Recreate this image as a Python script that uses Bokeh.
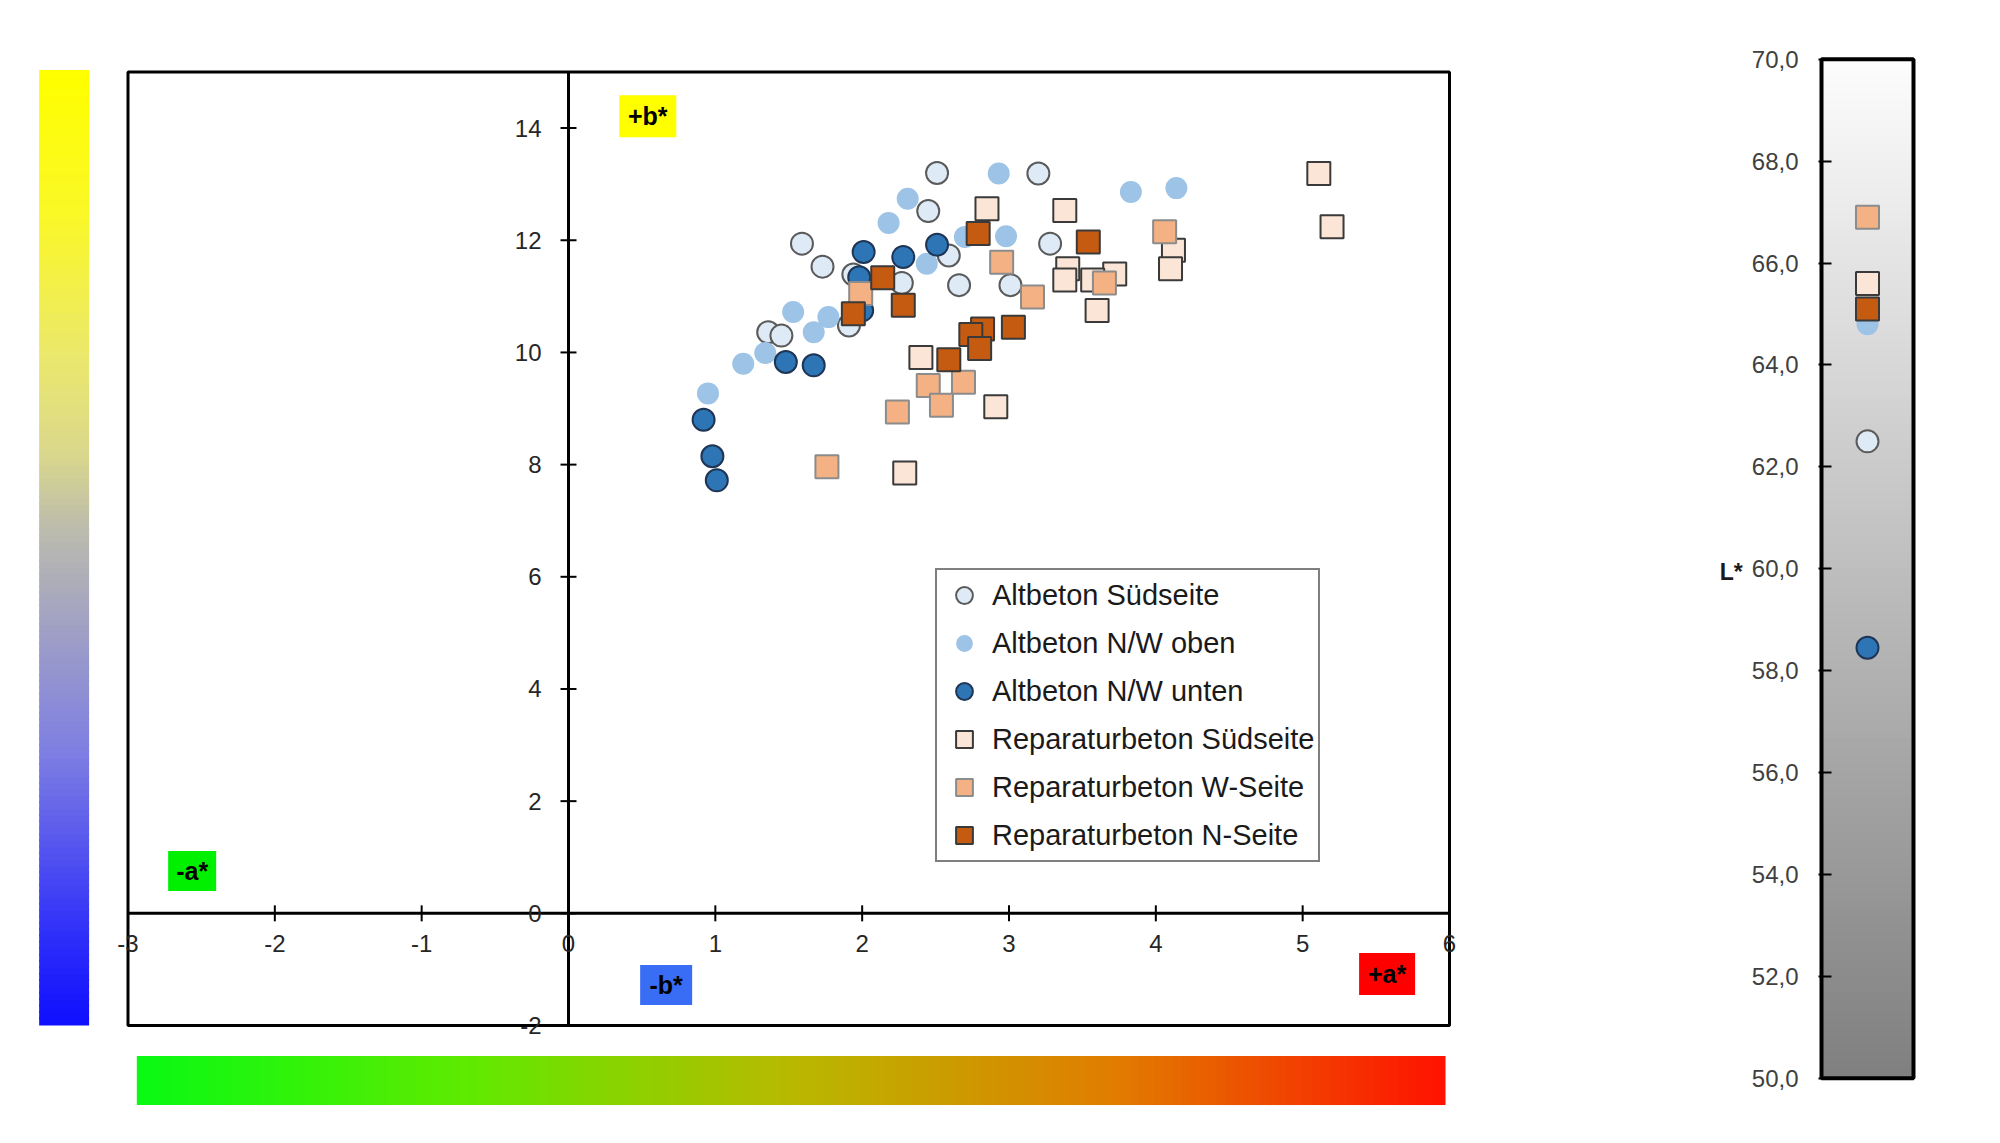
import numpy as np
from bokeh.plotting import figure
from bokeh.layouts import row
from bokeh.models import Range1d, Legend, LegendItem, FixedTicker, CustomJSTickFormatter
from bokeh.embed import file_html
from bokeh.resources import INLINE
from bokeh.core.properties import value

# ---------------- data: a* (x) and b* (y) per series ----------------
alt_sued_a = [2.51, 3.20, 2.45, 1.59, 1.73, 2.59, 3.28, 1.94, 2.27, 2.66, 3.01, 1.91, 1.36, 1.45]
alt_sued_b = [13.20, 13.19, 12.52, 11.94, 11.53, 11.73, 11.94, 11.39, 11.24, 11.20, 11.20, 10.48, 10.36, 10.30]
alt_nwo_a = [2.93, 2.31, 2.18, 2.70, 2.98, 2.44, 1.53, 1.77, 1.67, 1.34, 1.19, 0.95, 3.83, 4.14]
alt_nwo_b = [13.19, 12.74, 12.31, 12.06, 12.07, 11.58, 10.72, 10.63, 10.36, 9.99, 9.80, 9.27, 12.86, 12.93]
alt_nwu_a = [2.01, 2.28, 2.51, 1.98, 2.00, 1.48, 1.67, 0.92, 0.98, 1.01]
alt_nwu_b = [11.79, 11.70, 11.92, 11.34, 10.75, 9.83, 9.77, 8.80, 8.15, 7.72]
rep_sued_a = [2.85, 3.38, 3.40, 3.38, 3.72, 3.57, 3.60, 4.12, 4.10, 2.40, 2.91, 2.29, 5.11, 5.20]
rep_sued_b = [12.56, 12.53, 11.49, 11.29, 11.40, 11.29, 10.75, 11.82, 11.49, 9.91, 9.03, 7.85, 13.19, 12.24]
rep_w_a = [1.99, 2.95, 3.16, 3.65, 4.06, 2.45, 2.69, 2.54, 2.24, 1.76]
rep_w_b = [11.05, 11.61, 10.99, 11.24, 12.15, 9.41, 9.47, 9.06, 8.94, 7.96]
rep_n_a = [2.79, 3.54, 2.14, 2.28, 1.94, 3.03, 2.82, 2.74, 2.80, 2.59]
rep_n_b = [12.12, 11.97, 11.33, 10.84, 10.69, 10.45, 10.42, 10.32, 10.07, 9.87]

series_names = ["Altbeton Südseite", "Altbeton N/W oben", "Altbeton N/W unten",
                "Reparaturbeton Südseite", "Reparaturbeton W-Seite", "Reparaturbeton N-Seite"]
series_a = [alt_sued_a, alt_nwo_a, alt_nwu_a, rep_sued_a, rep_w_a, rep_n_a]
series_b = [alt_sued_b, alt_nwo_b, alt_nwu_b, rep_sued_b, rep_w_b, rep_n_b]
# mean lightness L* per series
L_values = [62.5, 64.8, 58.45, 65.6, 66.9, 65.1]

x_ticks = [-3, -2, -1, 0, 1, 2, 3, 4, 5, 6]
x_tick_labels = ["-3", "-2", "-1", "0", "1", "2", "3", "4", "5", "6"]
y_ticks = [-2, 0, 2, 4, 6, 8, 10, 12, 14]
y_tick_labels = ["-2", "0", "2", "4", "6", "8", "10", "12", "14"]
L_ticks = [50, 52, 54, 56, 58, 60, 62, 64, 66, 68, 70]

# ---------------- styles ----------------
markers = ["circle", "circle", "circle", "square", "square", "square"]
sizes = [22, 22, 22, 23, 23, 23]
fills = ["#deebf7", "#9dc3e6", "#2e75b6", "#fbe5d6", "#f4b183", "#c55a11"]
lines = ["#5a5a5a", None, "#1f3556", "#3a3a3a", "#8c8c8c", "#3a3a3a"]
FONT = value("Liberation Sans")
TXT = "#262626"

A_MIN, A_MAX, B_MIN, B_MAX = -3, 6, -2, 15
H = 1143
MAIN_W = 1700


def screen_range(lo, hi, px_lo, px_hi, total):
    ppu = (px_hi - px_lo) / (hi - lo)
    return Range1d(lo - px_lo / ppu, hi + (total - px_hi) / ppu)


# plot box pixel geometry (x from left, y from bottom)
xr = screen_range(A_MIN, A_MAX, 127.5, 1449.0, MAIN_W)
yr = screen_range(B_MIN, B_MAX, H - 1025.0, H - 71.5, H)

p = figure(width=MAIN_W, height=H, x_range=xr, y_range=yr, output_backend="svg",
           toolbar_location=None, x_axis_location=None, y_axis_location=None,
           min_border=0, outline_line_color=None, title=None)
p.grid.visible = False
p.background_fill_color = "white"
p.border_fill_color = "white"


def interp_colors(stops, n):
    pos = [s[0] for s in stops]
    t = np.linspace(0, 1, n)
    chans = [np.interp(t, pos, [s[1][k] for s in stops]) for k in range(3)]
    return ["#%02x%02x%02x" % (int(r), int(g), int(b)) for r, g, b in zip(*chans)]


# colour scale bars (decoration)
N = 150
left_stops = [(0.0, (16, 16, 255)), (0.1, (50, 50, 250)), (0.28, (125, 125, 228)),
              (0.52, (188, 188, 174)), (0.6, (218, 216, 140)), (0.7, (235, 232, 110)),
              (0.85, (250, 248, 40)), (1.0, (255, 255, 0))]
edges = np.linspace(B_MIN, B_MAX, N + 1)
step = edges[1] - edges[0]
p.quad(left=-3.605, right=-3.265, bottom=edges[:-1], top=edges[1:] + step * 0.3,
       fill_color=interp_colors(left_stops, N), line_color=None)

bottom_stops = [(0.0, (10, 250, 20)), (0.25, (95, 235, 0)), (0.5, (185, 185, 0)),
                (0.75, (225, 125, 0)), (1.0, (255, 20, 0))]
edges = np.linspace(-2.94, 5.955, N + 1)
step = edges[1] - edges[0]
p.quad(left=edges[:-1], right=edges[1:] + step * 0.3, bottom=-3.418, top=-2.544,
       fill_color=interp_colors(bottom_stops, N), line_color=None)

# plot box and crossing axes
p.quad(left=A_MIN, right=A_MAX, bottom=B_MIN, top=B_MAX, fill_color="white",
       line_color="black", line_width=3)
p.segment(x0=[0, A_MIN], y0=[B_MIN, 0], x1=[0, A_MAX], y1=[B_MAX, 0],
          line_color="black", line_width=3)
p.scatter(x=x_ticks, y=[0] * len(x_ticks), marker="dash", size=16, angle=np.pi / 2,
          line_color="black", line_width=2)
p.scatter(x=[0] * len(y_ticks), y=y_ticks, marker="dash", size=16,
          line_color="black", line_width=2)
p.text(x=x_ticks, y=[0] * len(x_ticks), text=x_tick_labels, text_font=FONT,
       text_font_size="24px", text_color=TXT, text_align="center",
       text_baseline="top", y_offset=22)
p.text(x=[0] * len(y_ticks), y=y_ticks, text=y_tick_labels, text_font=FONT,
       text_font_size="24px", text_color=TXT, text_align="right",
       text_baseline="middle", x_offset=-27)

# colour direction tags
tag_x = [0.54, -2.563, 0.665, 5.575]
tag_y = [14.21, 0.754, -1.28, -1.08]
tag_text = ["+b*", "-a*", "-b*", "+a*"]
tag_fill = ["#ffff00", "#00f000", "#3a6df5", "#ff0000"]
p.rect(x=tag_x, y=tag_y, width=[57, 48, 52, 56], height=[42, 40, 40, 42],
       width_units="screen", height_units="screen", fill_color=tag_fill, line_color=None)
p.text(x=tag_x, y=tag_y, text=tag_text, text_font=FONT, text_font_size="25px",
       text_font_style="bold", text_color="black", text_align="center",
       text_baseline="middle")

# data series
items = []
for name, xa, yb, mk, sz, fc, lc in zip(series_names, series_a, series_b, markers, sizes, fills, lines):
    r = p.scatter(x=xa, y=yb, marker=mk, size=sz, fill_color=fc,
                  line_color=lc, line_width=2)
    items.append(LegendItem(label=name, renderers=[r]))

legend = Legend(items=items, location=(935, 281), padding=4, spacing=6,
                glyph_width=46, glyph_height=42, label_height=42, label_standoff=5,
                margin=0, border_line_color="black", border_line_width=2,
                background_fill_color="white", background_fill_alpha=1.0,
                label_text_font="Liberation Sans", label_text_font_size="29px",
                label_text_color="#1a1a1a")
p.add_layout(legend)

# ---------------- L* panel ----------------
L_W = 2000 - MAIN_W
bar_left, bar_right = 1821.4 - MAIN_W, 1913.3 - MAIN_W
pad = 3.0
lxr = Range1d(-pad / (bar_right - bar_left), 1 + pad / (bar_right - bar_left))
lyr = screen_range(50, 70, H - 1077.8, H - 58.7, H)
p2 = figure(width=L_W, height=H, x_range=lxr, y_range=lyr, title=None,
            output_backend="svg", toolbar_location=None, x_axis_location=None,
            y_axis_location="left", min_border_left=int(round(bar_left - pad)),
            min_border_right=int(round(L_W - bar_right - pad)),
            min_border_top=0, min_border_bottom=0, outline_line_color=None)
p2.grid.visible = False
p2.background_fill_color = "white"
p2.border_fill_color = "white"

NL = 120
ledges = np.linspace(50, 70, NL + 1)
lstep = ledges[1] - ledges[0]
ltops = np.minimum(ledges[1:] + lstep * 0.3, 70)
p2.quad(left=0, right=1, bottom=ledges[:-1], top=ltops,
        fill_color=interp_colors([(0.0, (128, 128, 128)), (1.0, (253, 253, 253))], NL),
        line_color=None)
p2.quad(left=0, right=1, bottom=50, top=70, fill_color=None, line_color="black", line_width=4)

for lv, mk, fc, lc in zip(L_values, markers, fills, lines):
    p2.scatter(x=[0.5], y=[lv], marker=mk, size=23 if mk == "square" else 22,
               fill_color=fc, line_color=lc, line_width=2)

ax = p2.yaxis[0]
ax.ticker = FixedTicker(ticks=L_ticks)
ax.formatter = CustomJSTickFormatter(code="return tick.toFixed(1).replace('.', ',')")
ax.major_tick_in = 13
ax.major_tick_out = 0
ax.minor_tick_line_color = None
ax.major_tick_line_width = 2
ax.major_tick_line_color = "black"
ax.axis_line_color = None
ax.major_label_standoff = 20
ax.major_label_text_font = "Liberation Sans"
ax.major_label_text_font_size = "24px"
ax.major_label_text_color = "#404040"
ax.axis_label = "L*"
ax.axis_label_orientation = "horizontal"
ax.axis_label_text_font = "Liberation Sans"
ax.axis_label_text_font_size = "23px"
ax.axis_label_text_font_style = "bold"
ax.axis_label_text_color = "#1a1a1a"
ax.axis_label_standoff = 6

layout = row(p, p2)
open("out.html", "w").write(file_html(layout, INLINE))
